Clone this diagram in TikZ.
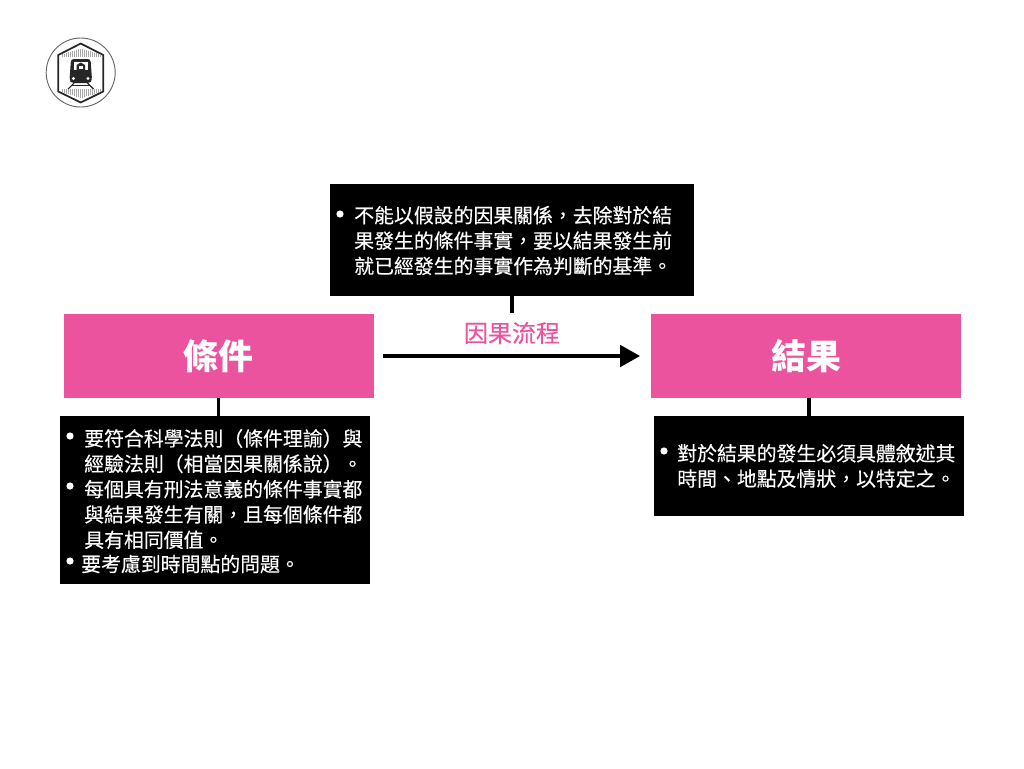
\documentclass[tikz,border=0pt]{standalone}
\usepackage{fontspec}
\setmainfont[FakeBold=0.25]{Noto Sans CJK TC}
\newfontfamily\titlefont{Noto Sans CJK TC}
\usetikzlibrary{arrows.meta}
\begin{document}
\begin{tikzpicture}[x=0.75pt,y=-0.75pt,
  pinkbox/.style={fill=titlepink, draw=none, inner sep=0pt, text=white,
        minimum height=84*0.75pt, minimum width=310*0.75pt,
        font=\titlefont\fontsize{26.2}{30}\selectfont\bfseries},
  blackbox/.style={fill=black, draw=none, inner sep=0pt},
  boxtext/.style={anchor=west, inner sep=0pt, text=white, align=left,
        font=\fontsize{14.9}{19}\selectfont},
  link/.style={draw=black, line width=2.4pt}]

\definecolor{titlepink}{HTML}{EB539E}
\colorlet{logoclr}{black!85}
\useasboundingbox (0,0) rectangle (1024,768);

% ---- (1) logo --------------------------------
\draw[draw=black!60, line width=0.7pt] (80.7,72.5) circle (34.5);
\draw[draw=logoclr, line width=1.3pt, line join=miter]
   (80.7,43.5) -- (103.3,55) -- (103.3,91.5) -- (80.7,102.5)
-- (58.3,91.5) -- (58.3,55) -- cycle;
\foreach \x in {62,64,...,100}{%
  \draw[draw=black!35, line width=0.5pt] (\x,{55-(21.5-abs(\x-80.7))*0.3}) -- (\x,57);
  \draw[draw=black!35, line width=0.5pt] (\x,89) -- (\x,{91.5+(21.5-abs(\x-80.7))*0.3});
}
\fill[logoclr, rounded corners=2pt] (71,59) -- (90.5,59) -- (92,80) -- (90,83) -- (71.5,83) -- (69.5,80) -- cycle;
\fill[white] (74,62) rectangle (87.5,70);
\fill[logoclr] (76.5,70) -- (76.5,65) -- (80.7,62.5) -- (85,65) -- (85,70) -- cycle;
\fill[white] (78.5,69) rectangle (83,66);
\fill[white] (73.5,78.5) circle (1.6);
\fill[white] (88,78.5) circle (1.6);
\draw[draw=logoclr, line width=0.8pt] (74,83) -- (68,89);
\draw[draw=logoclr, line width=0.8pt] (87.5,83) -- (93.5,89);
\draw[draw=logoclr, line width=0.8pt] (72,85.5) -- (89.5,85.5);

% ---- (2) pink title boxes --------------------------------
\node[pinkbox] (cond) at (218.5,356) {條件};
\node[pinkbox] (effect) at (806,356) {結果};

% ---- (3) black text boxes --------------------------------
\node[blackbox, minimum width=364*0.75pt, minimum height=112*0.75pt] (topbox) at (512,240) {};
\node[blackbox, minimum width=310*0.75pt, minimum height=168*0.75pt] (condbox) at (215,500) {};
\node[blackbox, minimum width=310*0.75pt, minimum height=100*0.75pt] (effectbox) at (809,466) {};

% ---- (4) connectors --------------------------------
\coordinate (topend) at (512,313);
\draw[link] (topbox.south) -- (topend);
\draw[link] (cond.south) -- (cond.south |- condbox.north);
\draw[link] (effectbox.north) -- (effectbox.north |- effect.south);
\draw[draw=black, line width=3pt, shorten <=7pt, shorten >=8pt,
      -{Stealth[length=15pt, width=16pt, inset=0pt]}] (cond.east) -- (effect.west);
\node[text=titlepink, inner sep=0pt, font=\fontsize{18}{20}\selectfont]
      (flowlabel) at (512,333) {因果流程};

% ---- (5) texts --------------------------------
\fill[white] (340,214) circle (3.6);
\node[boxtext] (toptext) at (354,240.5)
   {不能以假設的因果關係，去除對於結\\果發生的條件事實，要以結果發生前\\就已經發生的事實作為判斷的基準。};

\fill[white] (70,436) circle (3.6);
\fill[white] (70,486) circle (3.6);
\fill[white] (70,561) circle (3.6);
\node[boxtext] (condtext) at (84,489)
   {要符合科學法則（條件理諭）與\\經驗法則（相當因果關係說）。\\每個具有刑法意義的條件事實都\\與結果發生有關，且每個條件都\\具有相同價值。};
\node[boxtext] (condlast) at (81,564) {要考慮到時間點的問題。};

\fill[white] (664,451) circle (3.6);
\node[boxtext] (effecttext) at (677,466)
   {對於結果的發生必須具體敘述其\\時間、地點及情狀，以特定之。};

\end{tikzpicture}
\end{document}
